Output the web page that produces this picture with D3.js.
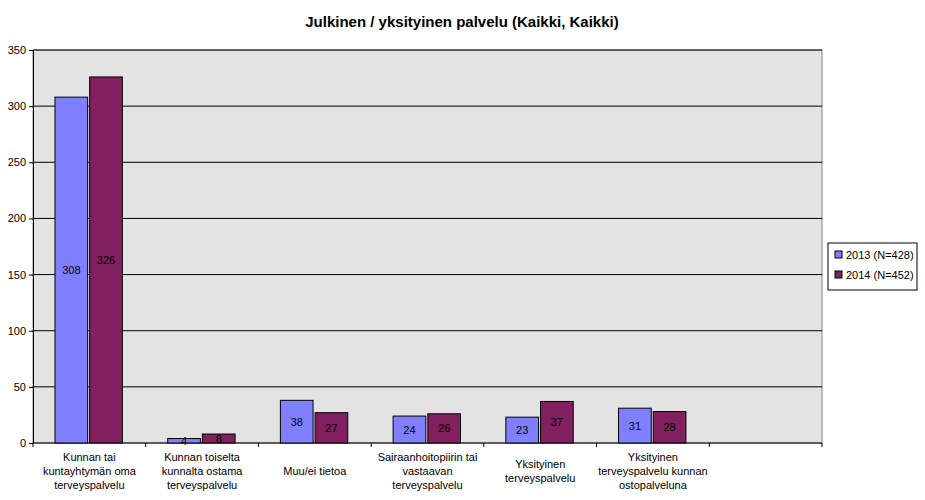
<!DOCTYPE html>
<html><head><meta charset="utf-8">
<script src="https://cdn.jsdelivr.net/npm/d3@7"></script>
<style>body{margin:0;background:#fff}text{font-family:"Liberation Sans",Arial,sans-serif}</style>
</head><body><svg id="c" width="925" height="500"></svg>
<script>
const categories = [
  ["Kunnan tai", "kuntayhtymän oma", "terveyspalvelu"],
  ["Kunnan toiselta", "kunnalta ostama", "terveyspalvelu"],
  ["Muu/ei tietoa"],
  ["Sairaanhoitopiirin tai", "vastaavan", "terveyspalvelu"],
  ["Yksityinen", "terveyspalvelu"],
  ["Yksityinen", "terveyspalvelu kunnan", "ostopalveluna"],
  [""]
];
const values2013 = [308, 4, 38, 24, 23, 31, null];
const values2014 = [326, 8, 27, 26, 37, 28, null];
const seriesNames = ["2013 (N=428)", "2014 (N=452)"];
const colors = ["#8080ff", "#80205e"];
const yTicks = [0, 50, 100, 150, 200, 250, 300, 350];

const svg = d3.select("#c");
const L = 33, R = 822, T = 50, B = 443;
const x = d3.scaleBand().domain(d3.range(categories.length)).range([L, R]);
const y = d3.scaleLinear().domain([0, 350]).range([B, T]);

svg.append("text").attr("x", 462).attr("y", 27).attr("text-anchor", "middle")
  .attr("font-size", 15).attr("font-weight", "bold").text("Julkinen / yksityinen palvelu (Kaikki, Kaikki)");

svg.append("rect").attr("x", L).attr("y", T).attr("width", R - L).attr("height", B - T)
  .attr("fill", "#e3e3e3").attr("stroke", "#808080");

svg.selectAll(".grid").data(yTicks.slice(1)).enter().append("line")
  .attr("x1", L).attr("x2", R).attr("y1", d => y(d)).attr("y2", d => y(d)).attr("stroke", "#000");

const yAxis = d3.axisLeft(y).tickValues(yTicks).tickSize(4).tickPadding(3);
const gy = svg.append("g").attr("transform", `translate(${L},0)`).call(yAxis);
gy.selectAll("text").attr("font-size", 11).attr("font-family", "Liberation Sans, Arial");

svg.append("line").attr("x1", L).attr("x2", R).attr("y1", B).attr("y2", B).attr("stroke", "#000");
svg.selectAll(".xt").data(d3.range(categories.length + 1)).enter().append("line")
  .attr("x1", i => L + i * x.step()).attr("x2", i => L + i * x.step())
  .attr("y1", B).attr("y2", B + 4).attr("stroke", "#000");

const bw = x.bandwidth() * 0.29;
[values2013, values2014].forEach((vals, s) => {
  const g = svg.append("g");
  vals.forEach((v, i) => {
    if (v == null) return;
    const bx = x(i) + x.bandwidth() * 0.195 + s * (bw + 2);
    g.append("rect").attr("x", bx).attr("y", y(v)).attr("width", bw).attr("height", B - y(v))
      .attr("fill", colors[s]).attr("stroke", "#000");
    g.append("text").attr("x", bx + bw / 2).attr("y", (y(v) + B) / 2 + 4)
      .attr("text-anchor", "middle").attr("font-size", 11).text(v);
  });
});

categories.forEach((lines, i) => {
  const cx = x(i) + x.bandwidth() / 2;
  const t = svg.append("text").attr("text-anchor", "middle").attr("font-size", 11);
  lines.forEach((ln, j) => {
    t.append("tspan").attr("x", cx).attr("y", 475 + (j - (lines.length - 1) / 2) * 14).text(ln);
  });
});

const lg = svg.append("g");
lg.append("rect").attr("x", 828).attr("y", 243).attr("width", 89).attr("height", 47)
  .attr("fill", "#fff").attr("stroke", "#000");
seriesNames.forEach((n, s) => {
  lg.append("rect").attr("x", 835).attr("y", 251 + s * 20).attr("width", 7).attr("height", 7)
    .attr("fill", colors[s]).attr("stroke", "#000");
  lg.append("text").attr("x", 846).attr("y", 259 + s * 20).attr("font-size", 11).text(n);
});
</script></body></html>
